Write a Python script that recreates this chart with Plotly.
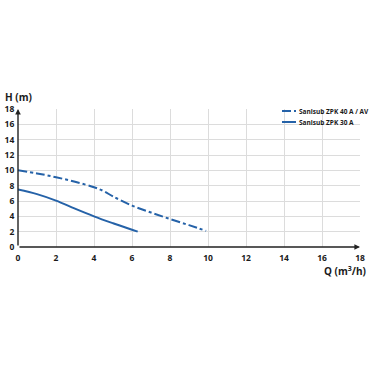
import plotly.graph_objects as go

# Data
q_40 = [0, 1, 2, 3, 4, 4.5, 5, 6, 7, 8, 9, 9.9]
h_40 = [10.0, 9.6, 9.1, 8.5, 7.8, 7.3, 6.6, 5.4, 4.5, 3.65, 2.85, 2.1]
q_30 = [0, 1, 2, 3, 4, 5, 6, 6.3]
h_30 = [7.5, 6.9, 6.05, 5.0, 4.0, 3.1, 2.25, 2.0]
name_40 = "Sanisub ZPK 40 A / AV"
name_30 = "Sanisub ZPK 30 A"
tick_vals = [0, 2, 4, 6, 8, 10, 12, 14, 16, 18]
tick_text = ["<b>%d</b>" % v for v in tick_vals]

blue = "#2562a8"
font_family = "'Open Sans', sans-serif"

W, H = 370, 370
L, R, T, B = 18, 10, 109, 123


def px(xp):
    # page pixel -> paper coordinate
    return (xp - L) / (W - L - R)


def py(yp):
    return 1 - (yp - T) / (H - T - B)


fig = go.Figure()
fig.add_trace(go.Scatter(x=q_40, y=h_40, mode="lines", name=name_40,
                         line=dict(color=blue, width=2, dash="dashdot", shape="spline"),
                         showlegend=False))
fig.add_trace(go.Scatter(x=q_30, y=h_30, mode="lines", name=name_30,
                         line=dict(color=blue, width=2, shape="spline"),
                         showlegend=False))

axis_common = dict(range=[0, 18], tickvals=tick_vals, ticktext=tick_text, showgrid=True,
                   gridcolor="#dcdcdc", gridwidth=1, zeroline=False, automargin=False,
                   showline=False, fixedrange=True,
                   tickfont=dict(family=font_family, size=8.5, color="#1a1a1a"))
fig.update_xaxes(**axis_common, ticks="outside", ticklen=3, tickcolor="rgba(0,0,0,0)")
fig.update_yaxes(**axis_common, ticks="outside", ticklen=1, tickcolor="rgba(0,0,0,0)")

# Axis arrows
fig.add_annotation(x=18, y=0, ax=0, ay=0, xref="x", yref="y", axref="x", ayref="y",
                   text="", showarrow=True, arrowhead=2, arrowsize=0.8, arrowwidth=1.4,
                   arrowcolor="#222")
fig.add_annotation(x=0, y=18, ax=0, ay=0, xref="x", yref="y", axref="x", ayref="y",
                   text="", showarrow=True, arrowhead=2, arrowsize=0.8, arrowwidth=1.4,
                   arrowcolor="#222")

# Axis titles
fig.add_annotation(x=px(3), y=py(97), xref="paper", yref="paper", text="<b>H (m)</b>",
                   showarrow=False, xanchor="left", yanchor="middle",
                   font=dict(family=font_family, size=10, color="#1a1a1a"))
fig.add_annotation(x=px(368), y=py(271), xref="paper", yref="paper",
                   text="<b>Q (m<sup>3</sup>/h)</b>",
                   showarrow=False, xanchor="right", yanchor="middle",
                   font=dict(family=font_family, size=10, color="#1a1a1a"))

# Manual legend
fig.add_shape(type="rect", xref="paper", yref="paper", x0=px(281), x1=px(369),
              y0=py(127), y1=py(100), fillcolor="white", line=dict(width=0), layer="below")
fig.add_shape(type="line", xref="paper", yref="paper", x0=px(282), x1=px(296),
              y0=py(111), y1=py(111), line=dict(color=blue, width=2, dash="dashdot"))
fig.add_shape(type="line", xref="paper", yref="paper", x0=px(282), x1=px(296),
              y0=py(122), y1=py(122), line=dict(color=blue, width=2))
fig.add_annotation(x=px(297), y=py(111), xref="paper", yref="paper",
                   text="<b>%s</b>" % name_40,
                   showarrow=False, xanchor="left", yanchor="middle",
                   font=dict(family=font_family, size=6.5, color="#1a1a1a"))
fig.add_annotation(x=px(297), y=py(122), xref="paper", yref="paper",
                   text="<b>%s</b>" % name_30,
                   showarrow=False, xanchor="left", yanchor="middle",
                   font=dict(family=font_family, size=6.5, color="#1a1a1a"))

fig.update_layout(width=W, height=H, margin=dict(l=L, r=R, t=T, b=B, autoexpand=False),
                  paper_bgcolor="white", plot_bgcolor="white", showlegend=False)

fig.write_html("out.html", config={"displayModeBar": False},
               post_script="document.body.style.margin='0';document.body.style.overflow='hidden';")
